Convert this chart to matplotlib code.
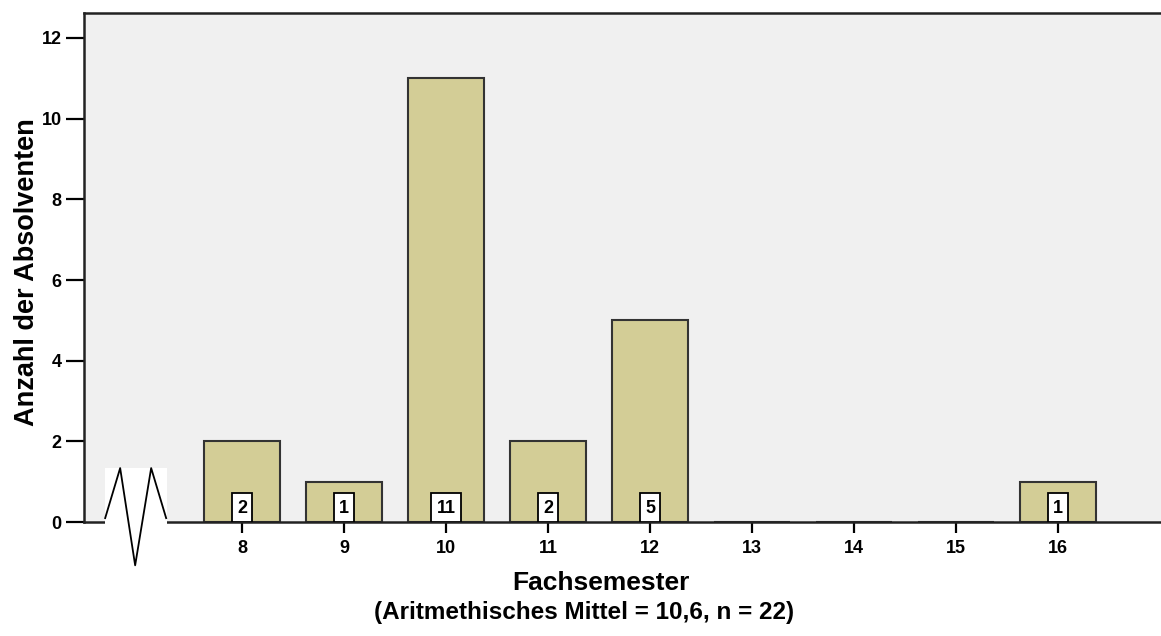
import matplotlib.pyplot as plt
from matplotlib.patches import Rectangle

plt.rcParams['font.family'] = ['Liberation Sans', 'DejaVu Sans']
plt.rcParams['font.weight'] = 'bold'

# Data
semester = [8, 9, 10, 11, 12, 13, 14, 15, 16]
counts = [2, 1, 11, 2, 5, 0, 0, 0, 1]
y_ticks = [0, 2, 4, 6, 8, 10, 12]

bar_color = '#d3cd96'
bg_color = '#f0f0f0'

fig = plt.figure(figsize=(11.61, 6.36), dpi=100)
ax = fig.add_axes([0.0724, 0.179, 0.9276, 0.8006])
ax.set_facecolor(bg_color)

ax.bar(semester, counts, width=0.75, color=bar_color, edgecolor='#333333', linewidth=1.5, zorder=2)

# count boxes at the foot of each bar, width grows with number of digits
for x, c in zip(semester, counts):
    if c > 0:
        w = 0.2 if c < 10 else 0.3
        ax.add_patch(Rectangle((x - w / 2, 0), w, 0.72, facecolor='white',
                               edgecolor='black', linewidth=1.3, zorder=3))
        ax.text(x, 0.35, str(c), ha='center', va='center', fontsize=13,
                fontweight='bold', zorder=4)

ax.set_xlim(6.45, 17.01)
ax.set_ylim(0, 12.62)
ax.set_xticks(semester)
ax.set_yticks(y_ticks)
ax.tick_params(axis='x', length=8, width=1.6, labelsize=13, pad=5)
ax.tick_params(axis='y', length=13, width=1.6, labelsize=13, pad=3)
for lbl in ax.get_xticklabels() + ax.get_yticklabels():
    lbl.set_fontweight('bold')

for side in ['left', 'top', 'bottom']:
    ax.spines[side].set_linewidth(1.8)
    ax.spines[side].set_color('#222222')
ax.spines['right'].set_visible(False)

fig.text(27 / 1161, 1 - 272 / 636, 'Anzahl der Absolventen', rotation=90, ha='center',
         va='center', fontsize=19.5, fontweight='bold')
fig.text(601 / 1161, 1 - 583 / 636, 'Fachsemester', ha='center', va='center',
         fontsize=19, fontweight='bold')
fig.text(584 / 1161, 1 - 613 / 636, '(Aritmethisches Mittel = 10,6, n = 22)', ha='center',
         va='center', fontsize=17.5, fontweight='bold')

# axis break marker
ax.add_patch(Rectangle((6.657, -0.05), 0.61, 1.4, facecolor='white', edgecolor='none',
                       zorder=5, clip_on=False))
ax.plot([6.657, 6.804, 6.951, 7.108, 7.255], [0.1, 1.34, -1.07, 1.34, 0.1],
        color='black', linewidth=1.3, zorder=6, clip_on=False)

fig.savefig('out.png', dpi=100, facecolor='white')
